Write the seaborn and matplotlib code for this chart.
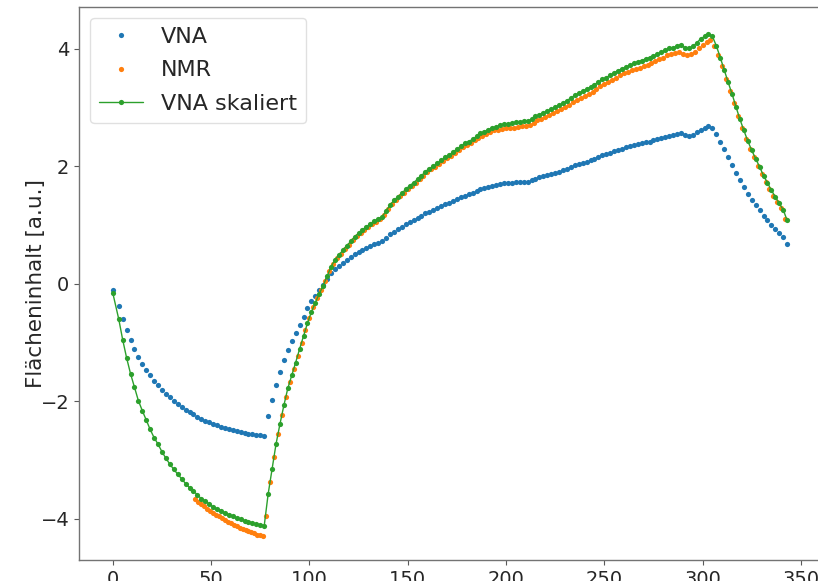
import numpy as np
import matplotlib
matplotlib.use("Agg")
import matplotlib.pyplot as plt
import seaborn as sns

# Measurement time axis of the VNA sweep and of the NMR reference
t_vna = np.concatenate([[0], np.arange(3, 344, 2)])
t_nmr = np.concatenate([np.arange(42, 77, 1.5), np.arange(78, 343, 2)])

vna = [
    -0.10, -0.38, -0.60, -0.79, -0.96, -1.11, -1.25, -1.36, -1.46, -1.56,
    -1.65, -1.72, -1.80, -1.87, -1.93, -1.99, -2.04, -2.09, -2.14, -2.18,
    -2.22, -2.26, -2.30, -2.33, -2.36, -2.39, -2.41, -2.43, -2.45, -2.47,
    -2.49, -2.51, -2.52, -2.54, -2.55, -2.56, -2.57, -2.58, -2.59,
    -2.25, -1.98, -1.72, -1.50, -1.30, -1.12, -0.98, -0.84, -0.70, -0.56,
    -0.42, -0.30, -0.20, -0.11, -0.02, 0.08, 0.18, 0.26, 0.31, 0.36,
    0.41, 0.45, 0.50, 0.54, 0.58, 0.61, 0.64, 0.67, 0.69, 0.72,
    0.78, 0.84, 0.89, 0.93, 0.97, 1.01, 1.05, 1.08, 1.12, 1.16,
    1.20, 1.23, 1.26, 1.29, 1.32, 1.35, 1.38, 1.41, 1.44, 1.47,
    1.50, 1.52, 1.55, 1.58, 1.61, 1.63, 1.65, 1.67, 1.68, 1.70,
    1.71, 1.71, 1.72, 1.73, 1.73, 1.74, 1.74, 1.76, 1.79, 1.81,
    1.83, 1.85, 1.87, 1.89, 1.91, 1.93, 1.96, 1.99, 2.02, 2.04,
    2.06, 2.08, 2.11, 2.13, 2.16, 2.19, 2.21, 2.23, 2.26, 2.28,
    2.30, 2.32, 2.34, 2.36, 2.38, 2.39, 2.41, 2.42, 2.44, 2.46,
    2.48, 2.50, 2.52, 2.53, 2.55, 2.56, 2.53, 2.52, 2.54, 2.58,
    2.62, 2.65, 2.68, 2.65, 2.55, 2.42, 2.29, 2.16, 2.03, 1.89,
    1.76, 1.64, 1.53, 1.43, 1.34, 1.25, 1.16, 1.08, 1.00, 0.93,
    0.86, 0.79, 0.68,
]

vna_skaliert = [
    -0.16, -0.60, -0.95, -1.26, -1.53, -1.76, -1.99, -2.16, -2.32, -2.48,
    -2.62, -2.73, -2.86, -2.97, -3.07, -3.16, -3.24, -3.32, -3.40, -3.47,
    -3.53, -3.59, -3.66, -3.70, -3.75, -3.80, -3.83, -3.86, -3.90, -3.93,
    -3.96, -3.99, -4.01, -4.04, -4.05, -4.07, -4.09, -4.10, -4.12,
    -3.58, -3.15, -2.73, -2.39, -2.07, -1.78, -1.56, -1.34, -1.11, -0.89,
    -0.67, -0.48, -0.32, -0.17, -0.03, 0.13, 0.29, 0.41, 0.49, 0.57,
    0.65, 0.72, 0.80, 0.86, 0.92, 0.97, 1.02, 1.07, 1.10, 1.14,
    1.24, 1.34, 1.42, 1.48, 1.54, 1.61, 1.67, 1.72, 1.78, 1.84,
    1.91, 1.96, 2.00, 2.05, 2.10, 2.15, 2.19, 2.24, 2.29, 2.34,
    2.39, 2.42, 2.46, 2.51, 2.56, 2.59, 2.62, 2.66, 2.67, 2.70,
    2.72, 2.72, 2.73, 2.75, 2.75, 2.77, 2.77, 2.80, 2.85, 2.88,
    2.91, 2.94, 2.97, 3.01, 3.04, 3.07, 3.12, 3.16, 3.21, 3.24,
    3.28, 3.31, 3.35, 3.39, 3.43, 3.48, 3.51, 3.55, 3.59, 3.63,
    3.66, 3.69, 3.72, 3.75, 3.78, 3.80, 3.83, 3.85, 3.88, 3.91,
    3.94, 3.98, 4.01, 4.02, 4.05, 4.07, 4.02, 4.01, 4.04, 4.10,
    4.17, 4.21, 4.26, 4.21, 4.05, 3.85, 3.64, 3.43, 3.23, 3.01,
    2.80, 2.61, 2.43, 2.27, 2.13, 1.99, 1.84, 1.72, 1.59, 1.48,
    1.37, 1.26, 1.08,
]

nmr = [
    -3.67, -3.71, -3.75, -3.79, -3.83, -3.86, -3.90, -3.93, -3.96, -3.99,
    -4.02, -4.05, -4.08, -4.10, -4.13, -4.15, -4.17, -4.19, -4.21, -4.23,
    -4.25, -4.27, -4.28, -4.30,
    -3.95, -3.37, -2.94, -2.56, -2.23, -1.93, -1.67, -1.45, -1.23, -1.00,
    -0.78, -0.58, -0.40, -0.25, -0.10, 0.05, 0.21, 0.34, 0.44, 0.51,
    0.59, 0.66, 0.74, 0.81, 0.87, 0.92, 0.97, 1.02, 1.06, 1.10,
    1.17, 1.27, 1.36, 1.43, 1.49, 1.55, 1.61, 1.66, 1.72, 1.78,
    1.84, 1.90, 1.95, 1.99, 2.04, 2.09, 2.14, 2.18, 2.23, 2.28,
    2.32, 2.36, 2.40, 2.44, 2.48, 2.52, 2.55, 2.58, 2.61, 2.62,
    2.64, 2.65, 2.65, 2.66, 2.67, 2.68, 2.69, 2.70, 2.73, 2.78,
    2.81, 2.84, 2.87, 2.90, 2.94, 2.97, 3.01, 3.04, 3.09, 3.13,
    3.16, 3.20, 3.23, 3.27, 3.31, 3.36, 3.40, 3.43, 3.47, 3.51,
    3.55, 3.58, 3.61, 3.64, 3.66, 3.68, 3.71, 3.73, 3.76, 3.79,
    3.82, 3.85, 3.89, 3.91, 3.93, 3.95, 3.92, 3.90, 3.91, 3.95,
    4.02, 4.07, 4.12, 4.15, 4.05, 3.90, 3.70, 3.49, 3.28, 3.07,
    2.86, 2.66, 2.47, 2.30, 2.15, 2.01, 1.87, 1.73, 1.61, 1.50,
    1.39, 1.29, 1.10,
]

assert len(t_vna) == len(vna) == len(vna_skaliert)
assert len(t_nmr) == len(nmr)

BLUE, ORANGE, GREEN = "#1f77b4", "#ff7f0e", "#2ca02c"

sns.set_style("ticks")
plt.rcParams["font.family"] = ["DejaVu Sans"]

fig = plt.figure(figsize=(8.18, 5.81), dpi=100)
ax = fig.add_axes([0.0966, 0.0353, 0.907, 0.9535])

dot = dict(marker=".", markersize=7.5, markeredgewidth=0,
           estimator=None, sort=False)
sns.lineplot(x=t_vna, y=vna, ax=ax, color=BLUE, linestyle="", label="VNA", **dot)
sns.lineplot(x=t_nmr, y=nmr, ax=ax, color=ORANGE, linestyle="", label="NMR", **dot)
sns.lineplot(x=t_vna, y=vna_skaliert, ax=ax, color=GREEN, linewidth=1.0,
             label="VNA skaliert", **dot)

ax.set_xlim(-17.2, 360.2)
ax.set_ylim(-4.71, 4.72)
ax.set_xticks([0, 50, 100, 150, 200, 250, 300, 350])
ax.set_yticks([-4, -2, 0, 2, 4])
ax.set_xlabel("")
ax.set_ylabel("Flächeninhalt [a.u.]", fontsize=15.5, labelpad=-4)
ax.tick_params(labelsize=14, length=3.5, width=0.8, color="0.35")
for s in ax.spines.values():
    s.set_color("0.45")
    s.set_linewidth(1.0)
ax.spines["right"].set_visible(False)

leg = ax.legend(loc="upper left", fontsize=16, frameon=True, labelspacing=0.62)
leg.get_frame().set_edgecolor("0.85")

fig.savefig("out.png", dpi=100)
